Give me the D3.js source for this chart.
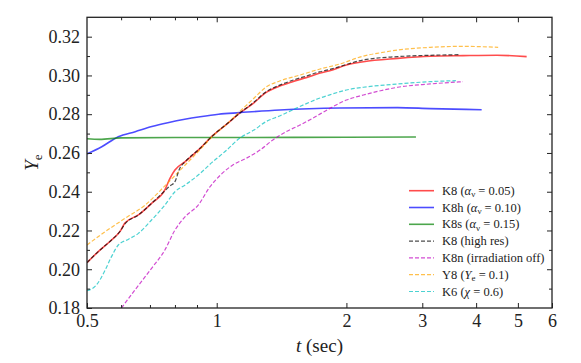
<!DOCTYPE html>
<html>
<head>
<meta charset="utf-8">
<script src="https://cdn.jsdelivr.net/npm/d3@7"></script>
<style>
  body { margin: 0; background: #fff; }
</style>
</head>
<body>
<div id="chart"></div>
<script>
// K8 (alpha_nu = 0.05)
const tK8 = [0.5, 0.531, 0.57, 0.596, 0.613, 0.658, 0.706, 0.758, 0.779, 0.8, 0.845, 0.915, 0.983, 1.055, 1.13, 1.22, 1.3, 1.4, 1.5, 1.62, 1.73, 1.83, 2.0, 2.19, 2.63, 3.13, 3.73, 4.47, 5.24];
const yK8 = [0.2034, 0.2091, 0.2151, 0.2194, 0.224, 0.228, 0.234, 0.2409, 0.2469, 0.2512, 0.2555, 0.2624, 0.2693, 0.2749, 0.2805, 0.2859, 0.2911, 0.2945, 0.2968, 0.299, 0.3011, 0.3024, 0.3054, 0.3071, 0.3088, 0.3099, 0.3102, 0.3104, 0.3097];

// K8h (alpha_nu = 0.10)
const tK8h = [0.5, 0.541, 0.591, 0.647, 0.707, 0.77, 0.843, 0.915, 1.01, 1.13, 1.4, 1.93, 2.63, 3.13, 4.12];
const yK8h = [0.2595, 0.2632, 0.2684, 0.271, 0.2736, 0.2756, 0.2774, 0.2787, 0.28, 0.2808, 0.2822, 0.2832, 0.2834, 0.2829, 0.2823];

// K8s (alpha_nu = 0.15)
const tK8s = [0.5, 0.535, 0.6, 0.8, 1.2, 2.0, 2.9];
const yK8s = [0.2673, 0.267, 0.2678, 0.268, 0.268, 0.2681, 0.2682];

// K8 high res
const tK8hr = [0.5, 0.531, 0.57, 0.596, 0.613, 0.658, 0.706, 0.758, 0.779, 0.8, 0.821, 0.845, 0.915, 0.983, 1.055, 1.13, 1.22, 1.3, 1.4, 1.5, 1.62, 1.73, 1.83, 2.19, 2.63, 3.13, 3.64];
const yK8hr = [0.2034, 0.2091, 0.2151, 0.2194, 0.2235, 0.228, 0.234, 0.2405, 0.243, 0.2452, 0.2521, 0.2555, 0.2624, 0.2693, 0.2749, 0.2805, 0.2862, 0.2915, 0.295, 0.2975, 0.2998, 0.3018, 0.3031, 0.308, 0.3097, 0.3104, 0.3107];

// K8n (irradiation off)
const tK8n = [0.601, 0.646, 0.706, 0.758, 0.8, 0.845, 0.906, 0.965, 1.02, 1.09, 1.17, 1.26, 1.35, 1.45, 1.56, 1.67, 1.83, 2.0, 2.19, 2.4, 2.63, 3.13, 3.73];
const yK8n = [0.18, 0.1893, 0.2005, 0.2099, 0.2202, 0.2271, 0.2331, 0.2426, 0.2486, 0.2538, 0.2572, 0.2615, 0.2667, 0.271, 0.2744, 0.2779, 0.283, 0.2873, 0.2899, 0.2921, 0.2939, 0.2956, 0.2968];

// Y8 (Ye = 0.1)
const tY8 = [0.5, 0.551, 0.613, 0.682, 0.758, 0.845, 0.906, 0.983, 1.055, 1.13, 1.22, 1.3, 1.4, 1.56, 1.73, 1.93, 2.19, 2.4, 2.63, 3.13, 3.73, 4.5];
const yY8 = [0.2125, 0.2194, 0.2263, 0.2331, 0.243, 0.2538, 0.2607, 0.269, 0.2749, 0.2813, 0.2882, 0.2939, 0.2971, 0.3002, 0.3032, 0.3059, 0.31, 0.3117, 0.3131, 0.3145, 0.315, 0.3145];

// K6 (chi = 0.6)
const tK6 = [0.5, 0.526, 0.551, 0.57, 0.591, 0.623, 0.658, 0.706, 0.758, 0.8, 0.845, 0.906, 0.974, 1.055, 1.13, 1.22, 1.3, 1.4, 1.5, 1.62, 1.73, 1.83, 2.0, 2.19, 2.63, 3.13, 3.59];
const yK6 = [0.1889, 0.1919, 0.1996, 0.2065, 0.2125, 0.2154, 0.2185, 0.2254, 0.2331, 0.24, 0.2435, 0.2486, 0.255, 0.2615, 0.2676, 0.2718, 0.2761, 0.2791, 0.2822, 0.2856, 0.2882, 0.29, 0.2925, 0.2939, 0.2956, 0.2968, 0.2973];

const xTicks = [0.5, 1, 2, 3, 4, 5, 6];
const xMinor = [0.6, 0.7, 0.8, 0.9];
const yTicks = [0.18, 0.20, 0.22, 0.24, 0.26, 0.28, 0.30, 0.32];
const yMinor = [0.19, 0.21, 0.23, 0.25, 0.27, 0.29, 0.31];

const W = 581, H = 363;
const pL = 87, pR = 552, pT = 17.3, pB = 308;
const FONT = "'Liberation Serif', 'Times New Roman', 'DejaVu Serif', serif";

const svg = d3.select("#chart").append("svg")
    .attr("width", W).attr("height", H)
    .attr("font-family", FONT);

const x = d3.scaleLog().domain([0.5, 6]).range([pL, pR]);
const y = d3.scaleLinear().domain([0.18, 0.33]).range([pB, pT]);

svg.append("clipPath").attr("id", "clip")
  .append("rect")
    .attr("x", pL).attr("y", pT)
    .attr("width", pR - pL).attr("height", pB - pT);

// series: legend order
const series = [
  { t: tK8,   v: yK8,   color: "red",     dash: null },
  { t: tK8h,  v: yK8h,  color: "blue",    dash: null },
  { t: tK8s,  v: yK8s,  color: "green",   dash: null },
  { t: tK8hr, v: yK8hr, color: "black",   dash: "4,2" },
  { t: tK8n,  v: yK8n,  color: "#bf00bf", dash: "4,2" },
  { t: tY8,   v: yY8,   color: "orange",  dash: "4,2" },
  { t: tK6,   v: yK6,   color: "#00bfbf", dash: "4,2" }
];

const line = d3.line()
    .x(d => x(d[0]))
    .y(d => y(d[1]))
    .curve(d3.curveMonotoneX);

// solid lines first, dashed on top
const drawOrder = [0, 1, 2, 4, 6, 5, 3];
const plot = svg.append("g").attr("clip-path", "url(#clip)");
drawOrder.forEach(i => {
  const s = series[i];
  plot.append("path")
      .datum(d3.zip(s.t, s.v))
      .attr("fill", "none")
      .attr("stroke", s.color)
      .attr("stroke-opacity", 0.7)
      .attr("stroke-width", s.dash ? 1.2 : 1.6)
      .attr("stroke-dasharray", s.dash)
      .attr("d", line);
});

// inward ticks on all four sides
function tickAxis(gen, scale, vals, size, fmt, tr) {
  const g = svg.append("g")
      .attr("transform", tr)
      .call(gen(scale).tickValues(vals).tickSizeInner(-size).tickSizeOuter(0)
            .tickFormat(fmt).tickPadding(8));
  g.attr("font-family", FONT);
  g.select(".domain").remove();
  g.selectAll("line").attr("stroke", "#222").attr("stroke-width", 1);
  return g;
}

const gx = tickAxis(d3.axisBottom, x, xTicks, 5, d3.format(""), `translate(0,${pB})`);
gx.selectAll("text").attr("font-size", 18).attr("fill", "#222").attr("dy", "0.72em").attr("y", 6);
tickAxis(d3.axisBottom, x, xMinor, 3, () => "", `translate(0,${pB})`);
tickAxis(d3.axisTop, x, xTicks.slice(1, 6), 5, () => "", `translate(0,${pT})`);
tickAxis(d3.axisTop, x, xMinor, 3, () => "", `translate(0,${pT})`);

const gy = tickAxis(d3.axisLeft, y, yTicks, 5, d3.format(".2f"), `translate(${pL},0)`);
gy.selectAll("text").attr("font-size", 18).attr("fill", "#222").attr("x", -7);
tickAxis(d3.axisLeft, y, yMinor, 3, () => "", `translate(${pL},0)`);
tickAxis(d3.axisRight, y, yTicks.slice(1), 5, () => "", `translate(${pR},0)`);
tickAxis(d3.axisRight, y, yMinor, 3, () => "", `translate(${pR},0)`);

// frame
svg.append("rect")
    .attr("x", pL).attr("y", pT)
    .attr("width", pR - pL).attr("height", pB - pT)
    .attr("fill", "none").attr("stroke", "#222").attr("stroke-width", 1.3);

// axis labels
const xl = svg.append("text")
    .attr("x", (pL + pR) / 2).attr("y", 352)
    .attr("text-anchor", "middle").attr("font-size", 19).attr("fill", "#222");
xl.append("tspan").attr("font-style", "italic").text("t");
xl.append("tspan").text(" (sec)");

const yl = svg.append("text")
    .attr("transform", `translate(38,${(pT + pB) / 2}) rotate(-90)`)
    .attr("text-anchor", "middle").attr("font-size", 19).attr("fill", "#222");
yl.append("tspan").attr("font-style", "italic").text("Y");
yl.append("tspan").attr("dy", 4).attr("font-size", 13).text("e");

// legend
const legendLabels = [
  [["K8 (", ""], ["α", "i"], ["ν", "sub"], [" = 0.05)", ""]],
  [["K8h (", ""], ["α", "i"], ["ν", "sub"], [" = 0.10)", ""]],
  [["K8s (", ""], ["α", "i"], ["ν", "sub"], [" = 0.15)", ""]],
  [["K8 (high res)", ""]],
  [["K8n (irradiation off)", ""]],
  [["Y8 (", ""], ["Y", "i"], ["e", "sub"], [" = 0.1)", ""]],
  [["K6 (", ""], ["χ", "i"], [" = 0.6)", ""]]
];

const legend = svg.append("g");
series.forEach((s, i) => {
  const ly = 190.7 + i * 16.8;
  legend.append("line")
      .attr("x1", 409).attr("x2", 434)
      .attr("y1", ly).attr("y2", ly)
      .attr("stroke", s.color).attr("stroke-opacity", 0.7)
      .attr("stroke-width", s.dash ? 1.2 : 1.6)
      .attr("stroke-dasharray", s.dash);
  const txt = legend.append("text")
      .attr("x", 442).attr("y", ly + 4)
      .attr("font-size", 12.5).attr("fill", "#222");
  let shifted = false;
  legendLabels[i].forEach(([str, kind]) => {
    const sp = txt.append("tspan").text(str);
    if (kind === "i") sp.attr("font-style", "italic");
    if (kind === "sub") { sp.attr("dy", 2.5).attr("font-size", 9); shifted = true; }
    else if (shifted) { sp.attr("dy", -2.5); shifted = false; }
  });
});
</script>
</body>
</html>
